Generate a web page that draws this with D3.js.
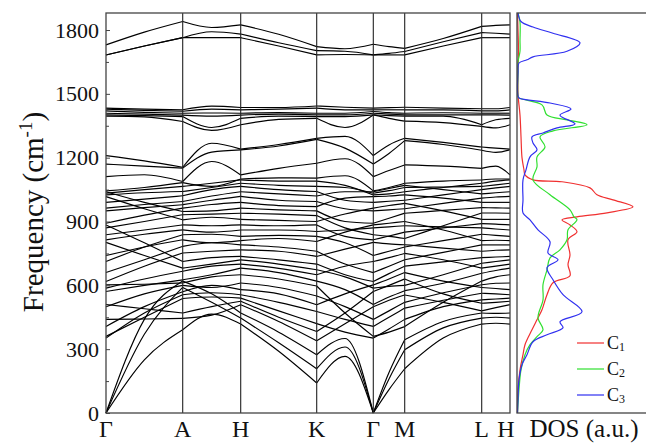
<!DOCTYPE html>
<html><head><meta charset="utf-8">
<script src="https://cdn.jsdelivr.net/npm/d3@7"></script>
<style>body{margin:0;background:#fff}svg{display:block}text{font-family:"Liberation Serif","Times New Roman",serif;fill:#111}</style>
</head><body><div id="chart"></div>
<script>
// high-symmetry points (path distance, arbitrary units)
const kTicks = [0, 0.767, 1.347, 2.107, 2.673, 2.987, 3.757, 4.04];
const kLabels = ["Γ", "A", "H", "K", "Γ", "M", "L", "H"];
const yTicks = [0, 300, 600, 900, 1200, 1500, 1800];
const yMinor = [150, 450, 750, 1050, 1350, 1650];
// each band: values at [Γ, mid, A, mid, H, mid, K, mid, Γ, mid, M, mid, L, mid, H] (cm^-1)
const bands = [
  [0, 250, 391, 465, 418, 290, 141, 266, 0, 110, 208, 352, 418, 422, 418],
  [0, 370, 590, 520, 446, 330, 208, 310, 0, 160, 297, 400, 446, 450, 446],
  [0, 440, 620, 560, 470, 380, 274, 350, 0, 190, 344, 430, 470, 468, 470],
  [440, 442, 445, 460, 509, 430, 339, 420, 499, 530, 555, 520, 480, 495, 509],
  [510, 490, 470, 500, 525, 450, 383, 470, 571, 600, 630, 560, 516, 520, 525],
  [360, 450, 538, 545, 540, 480, 420, 380, 352, 395, 440, 500, 532, 536, 540],
  [352, 470, 556, 565, 556, 520, 477, 440, 407, 450, 493, 530, 563, 560, 556],
  [407, 500, 570, 600, 580, 560, 509, 560, 602, 630, 660, 620, 590, 585, 580],
  [499, 560, 600, 590, 611, 590, 550, 500, 440, 480, 520, 565, 603, 610, 611],
  [602, 605, 611, 640, 650, 630, 597, 470, 360, 380, 406, 520, 620, 640, 650],
  [571, 600, 626, 650, 681, 660, 620, 580, 510, 545, 575, 610, 657, 670, 681],
  [587, 630, 666, 690, 700, 680, 650, 690, 712, 730, 750, 720, 681, 690, 700],
  [802, 740, 681, 700, 720, 700, 673, 640, 587, 595, 600, 650, 704, 712, 720],
  [884, 800, 712, 730, 736, 720, 700, 650, 618, 655, 690, 710, 730, 733, 736],
  [618, 690, 752, 760, 767, 760, 736, 770, 802, 795, 791, 775, 760, 765, 767],
  [660, 720, 783, 800, 790, 780, 760, 700, 660, 690, 720, 755, 790, 790, 790],
  [740, 780, 814, 800, 810, 820, 806, 850, 884, 892, 900, 860, 810, 812, 810],
  [712, 780, 838, 840, 830, 835, 830, 800, 740, 760, 780, 810, 840, 835, 830],
  [814, 840, 861, 850, 860, 860, 853, 860, 870, 875, 880, 875, 870, 865, 860],
  [838, 860, 884, 880, 884, 880, 884, 830, 814, 832, 850, 870, 890, 888, 884],
  [1017, 960, 908, 920, 910, 905, 900, 935, 963, 975, 985, 950, 910, 910, 910],
  [870, 900, 932, 935, 939, 935, 928, 870, 838, 830, 820, 880, 940, 940, 939],
  [1040, 990, 947, 950, 963, 955, 950, 900, 892, 915, 939, 952, 965, 964, 963],
  [892, 930, 963, 980, 990, 975, 970, 1010, 1017, 1020, 1025, 1010, 990, 990, 990],
  [950, 965, 979, 1000, 1018, 1000, 994, 960, 950, 955, 960, 985, 1010, 1015, 1018],
  [963, 980, 994, 1020, 1040, 1030, 1020, 1040, 1040, 1055, 1070, 1050, 1030, 1035, 1040],
  [990, 1005, 1021, 1050, 1065, 1050, 1041, 1000, 990, 995, 1000, 1025, 1050, 1058, 1065],
  [1025, 1035, 1041, 1060, 1080, 1070, 1065, 1060, 1033, 1045, 1060, 1062, 1065, 1072, 1080],
  [1033, 1050, 1065, 1080, 1096, 1090, 1090, 1070, 1025, 1030, 1040, 1060, 1080, 1090, 1096],
  [1044, 1060, 1083, 1065, 1100, 1105, 1104, 1115, 1044, 1060, 1080, 1090, 1095, 1100, 1100],
  [1111, 1120, 1088, 1182, 1119, 1150, 1174, 1195, 1111, 1140, 1166, 1160, 1150, 1160, 1119],
  [1170, 1160, 1151, 1226, 1237, 1255, 1286, 1245, 1170, 1220, 1280, 1262, 1235, 1225, 1237],
  [1210, 1185, 1155, 1268, 1240, 1262, 1291, 1300, 1210, 1260, 1291, 1272, 1250, 1245, 1240],
  [1395, 1392, 1370, 1328, 1355, 1380, 1385, 1342, 1401, 1385, 1372, 1365, 1347, 1340, 1355],
  [1401, 1398, 1393, 1342, 1385, 1395, 1393, 1393, 1401, 1398, 1395, 1395, 1355, 1378, 1385],
  [1409, 1405, 1400, 1395, 1400, 1405, 1401, 1401, 1409, 1405, 1401, 1401, 1401, 1401, 1400],
  [1420, 1413, 1409, 1410, 1409, 1412, 1409, 1409, 1417, 1412, 1409, 1411, 1409, 1409, 1409],
  [1428, 1422, 1418, 1428, 1425, 1428, 1433, 1425, 1425, 1425, 1425, 1425, 1420, 1420, 1425],
  [1433, 1428, 1425, 1442, 1436, 1436, 1443, 1437, 1433, 1435, 1437, 1433, 1430, 1430, 1436],
  [1730, 1790, 1840, 1812, 1824, 1780, 1722, 1712, 1733, 1722, 1714, 1760, 1817, 1822, 1824],
  [1683, 1725, 1764, 1792, 1781, 1740, 1703, 1700, 1683, 1690, 1699, 1745, 1788, 1785, 1781],
  [1683, 1725, 1764, 1764, 1764, 1725, 1683, 1685, 1683, 1683, 1683, 1725, 1764, 1764, 1764]
];
// phonon DOS (a.u.) per carbon site
const c1Freq = [0, 110, 203, 274, 321, 391, 438, 485, 556, 612, 645, 697, 743, 814, 852, 884, 908, 922, 941, 969, 1002, 1026, 1058, 1087, 1096, 1119, 1143, 1200, 1300, 1400, 1500, 1600, 1700, 1800, 1880];
const c1Dos  = [0.005, 0.01, 0.03, 0.06, 0.08, 0.15, 0.20, 0.25, 0.30, 0.36, 0.53, 0.51, 0.53, 0.51, 0.60, 0.53, 0.45, 0.60, 0.90, 1.16, 0.96, 0.80, 0.73, 0.45, 0.16, 0.08, 0.07, 0.05, 0.04, 0.03, 0.01, 0.01, 0.015, 0.01, 0.005];
const c2Freq = [0, 110, 203, 274, 321, 359, 391, 448, 532, 603, 673, 729, 767, 814, 861, 908, 922, 955, 1026, 1096, 1157, 1204, 1251, 1298, 1326, 1355, 1378, 1401, 1448, 1481, 1490, 1600, 1650, 1700, 1750, 1838, 1880];
const c2Dos  = [0.005, 0.02, 0.04, 0.08, 0.13, 0.20, 0.26, 0.21, 0.26, 0.26, 0.30, 0.33, 0.43, 0.50, 0.51, 0.60, 0.57, 0.53, 0.33, 0.16, 0.20, 0.20, 0.28, 0.23, 0.36, 0.70, 0.50, 0.30, 0.25, 0.02, 0.01, 0.01, 0.01, 0.03, 0.03, 0.03, 0.01];
const c3Freq = [0, 62, 156, 227, 274, 335, 368, 401, 429, 476, 556, 626, 683, 720, 752, 805, 861, 908, 940, 1002, 1096, 1143, 1204, 1237, 1269, 1298, 1316, 1340, 1359, 1400, 1429, 1457, 1481, 1490, 1600, 1645, 1660, 1674, 1700, 1740, 1785, 1814, 1840, 1880];
const c3Dos  = [0.005, 0.01, 0.02, 0.05, 0.10, 0.16, 0.30, 0.46, 0.43, 0.65, 0.46, 0.36, 0.30, 0.41, 0.31, 0.33, 0.21, 0.13, 0.06, 0.06, 0.06, 0.09, 0.13, 0.20, 0.16, 0.15, 0.26, 0.40, 0.58, 0.43, 0.54, 0.33, 0.02, 0.01, 0.01, 0.02, 0.10, 0.16, 0.50, 0.63, 0.36, 0.16, 0.04, 0.01];
const dosSeries = ["C1", "C2", "C3"];
const dosColors = ["#f03030", "#30e030", "#3030f0"];

const W = 646, H = 443;
const svg = d3.select("#chart").append("svg").attr("width", W).attr("height", H);
const pTop = 13, pBottom = 413, bandL = 106, bandR = 510, dosL = 517, dosR = 647;

const x = d3.scaleLinear().domain([kTicks[0], kTicks[kTicks.length - 1]]).range([bandL, bandR]);
const y = d3.scaleLinear().domain([0, 1880]).range([pBottom, pTop]);
const xd = d3.scaleLinear().domain([0, 1.3]).range([dosL, dosR]);

// bands
const seg = d3.line().x(d => x(d[0])).y(d => y(d[1])).curve(d3.curveMonotoneX);
const gB = svg.append("g").attr("fill", "none").attr("stroke", "#000").attr("stroke-width", 1.15);
bands.forEach(b => {
  for (let s = 0; s < kTicks.length - 1; s++) {
    const k0 = kTicks[s], k1 = kTicks[s + 1];
    gB.append("path").attr("d", seg([[k0, b[2 * s]], [(k0 + k1) / 2, b[2 * s + 1]], [k1, b[2 * s + 2]]]));
  }
});
// high-symmetry verticals
svg.append("g").selectAll("line").data(kTicks.slice(1, -1)).join("line")
  .attr("x1", d => x(d)).attr("x2", d => x(d)).attr("y1", pTop).attr("y2", pBottom)
  .attr("stroke", "#222").attr("stroke-width", 1.1);
// frames
svg.append("rect").attr("x", bandL).attr("y", pTop).attr("width", bandR - bandL).attr("height", pBottom - pTop)
  .attr("fill", "none").attr("stroke", "#444").attr("stroke-width", 1.3);
// y axis
const ya = svg.append("g").attr("transform", `translate(${bandL},0)`)
  .call(d3.axisLeft(y).tickValues(yTicks).tickSize(-4).tickPadding(7).tickFormat(d3.format("d")));
ya.select(".domain").remove();
ya.selectAll("text").attr("font-size", 22).attr("font-family", "Liberation Serif").attr("fill", "#111");
ya.selectAll("line").attr("stroke", "#444");
const ym = svg.append("g").attr("transform", `translate(${bandL},0)`)
  .call(d3.axisLeft(y).tickValues(yMinor).tickSize(-3).tickFormat(""));
ym.select(".domain").remove();
ym.selectAll("line").attr("stroke", "#444");
// x labels
svg.append("g").selectAll("text").data(kTicks).join("text")
  .attr("x", (d, i) => x(d) + (i === kTicks.length - 1 ? -4 : 0)).attr("y", 437)
  .attr("text-anchor", "middle").attr("font-size", 24).text((d, i) => kLabels[i]);
// y label
const yl = svg.append("text").attr("transform", "translate(43,212) rotate(-90)")
  .attr("text-anchor", "middle").attr("font-size", 29);
yl.append("tspan").text("Frequency (cm");
yl.append("tspan").attr("font-size", 19).attr("dy", -11).text("-1");
yl.append("tspan").attr("dy", 11).text(")");

// DOS panel
const dosData = [[c1Freq, c1Dos], [c2Freq, c2Dos], [c3Freq, c3Dos]];
const dl = d3.line().x(d => xd(d[1])).y(d => y(d[0])).curve(d3.curveCatmullRom);
dosData.forEach((s, i) => {
  svg.append("path").attr("d", dl(s[0].map((f, j) => [f, s[1][j]])))
    .attr("fill", "none").attr("stroke", dosColors[i]).attr("stroke-width", 1.2);
});
svg.append("rect").attr("x", dosL).attr("y", pTop).attr("width", dosR - dosL).attr("height", pBottom - pTop)
  .attr("fill", "none").attr("stroke", "#444").attr("stroke-width", 1.3);
svg.append("text").attr("x", 584).attr("y", 437).attr("text-anchor", "middle").attr("font-size", 25).text("DOS (a.u.)");
// legend
const lg = svg.append("g");
dosSeries.forEach((n, i) => {
  const ly = 343 + i * 26;
  lg.append("line").attr("x1", 577).attr("x2", 604).attr("y1", ly).attr("y2", ly).attr("stroke", dosColors[i]).attr("stroke-width", 1.2);
  const t = lg.append("text").attr("x", 607).attr("y", ly + 6).attr("font-size", 18);
  t.append("tspan").text(n[0]);
  t.append("tspan").attr("font-size", 12).attr("dy", 2).text(n.slice(1));
});
</script></body></html>
